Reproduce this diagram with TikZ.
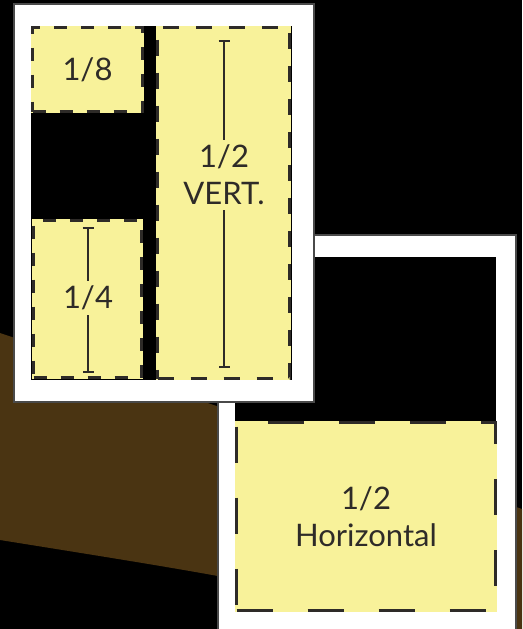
\documentclass[tikz,border=0pt]{standalone}
\usepackage{fontspec}
\setmainfont{Lato}
\usetikzlibrary{arrows.meta}
\definecolor{pad}{HTML}{F8F29A}
\definecolor{mud}{HTML}{4A3412}
\definecolor{ink}{HTML}{2E2B28}
\definecolor{rim}{HTML}{4A4A4A}

\begin{document}
\begin{tikzpicture}[x=1pt,y=-1pt]
 \tikzstyle{page} = [fill=white,draw=rim,line width=2pt]
 \tikzstyle{hole} = [fill=black]
 \tikzstyle{ad} = [fill=pad,draw=ink,line width=2.8pt,dash pattern=on 13pt off 14pt,
   inner sep=0pt,text=ink,font=\fontsize{31}{37}\selectfont,align=center]
 \tikzstyle{bigad} = [ad,dash pattern=on 36pt off 35pt]
 \tikzstyle{lbl} = [text=ink,font=\fontsize{31}{37}\selectfont,align=center,inner sep=5pt]
 \tikzstyle{dim} = [draw=ink,line width=2.4pt,{Bar[width=11pt,line width=2.4pt]}-]
 \useasboundingbox (0,0) rectangle (522,629);
 \clip (0,0) rectangle (522,629);
 % backdrop
 \fill[black] (0,0) rectangle (522,629);
 \fill[mud] (0,333) -- (522,509) -- (522,640) .. controls (250,580) .. (0,540) -- cycle;
 % second page
 \draw[page] (218,235) rectangle (516,660);
 \fill[hole] (235,257) rectangle (496,612);
 \fill[pad] (235,421) rectangle (497,612);
 \node[bigad,minimum width=259pt,minimum height=188pt] (Horiz) at (366,516.5) {1/2\\Horizontal};
 % first page
 \draw[page] (14,4) rectangle (314,402);
 \fill[hole] (31,26) rectangle (292,380);
 \fill[pad] (31,26) rectangle (144,113);
 \fill[pad] (156,26) rectangle (291,380);
 \fill[pad] (32,219) rectangle (143,379);
 \node[ad,minimum width=110pt,minimum height=84pt] (Eighth) at (87.5,69.5) {1/8};
 \node[ad,dash pattern=on 16pt off 17pt,minimum width=132pt,minimum height=351pt] (Vert) at (223.5,203) {};
 \node[ad,minimum width=108pt,minimum height=157pt] (Quarter) at (87.5,299) {};
 \node[lbl] (VertText) at (224,175) {1/2\\VERT.};
 \node[lbl] (QuarterText) at (88,298) {1/4};
 \coordinate (VertTop) at (224,40);
 \coordinate (VertBot) at (224,368);
 \coordinate (QuarterTop) at (88,227);
 \coordinate (QuarterBot) at (88,373);
 \draw[dim] (VertTop) -- (VertText.north);
 \draw[dim] (VertBot) -- (VertText.south);
 \draw[dim] (QuarterTop) -- (QuarterText.north);
 \draw[dim] (QuarterBot) -- (QuarterText.south);
\end{tikzpicture}
\end{document}
